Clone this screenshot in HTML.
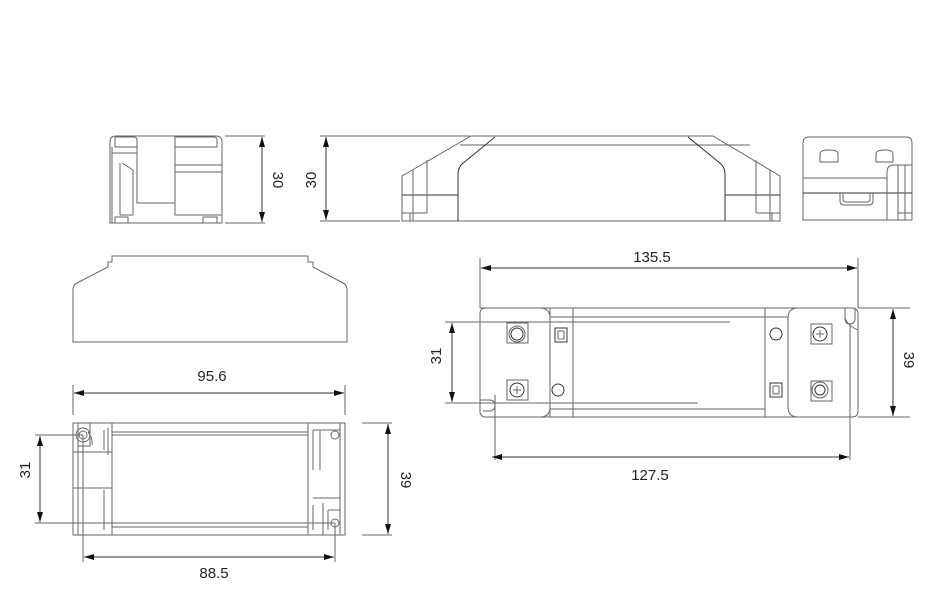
<!DOCTYPE html>
<html><head><meta charset="utf-8"><style>
html,body{margin:0;padding:0;background:#fff;}
svg{display:block;}
text{font-family:"Liberation Sans",Arial,sans-serif;font-size:15px;fill:#222;}
</style></head><body>
<svg width="926" height="600" viewBox="0 0 926 600" xmlns="http://www.w3.org/2000/svg">
<defs>
<marker id="a" viewBox="0 0 10 6" refX="10" refY="3" markerWidth="10" markerHeight="6" orient="auto-start-reverse" markerUnits="userSpaceOnUse"><path d="M0,0 L10,3 L0,6 z" fill="#111"/></marker>
</defs>
<g fill="none" stroke="#666" stroke-width="1">
<path d="M110,223 V142 Q110,136 116,136 H216 Q222,136 222,142 V223 Z"/>
<path d="M115,137 V147 H137 V140 Q137,137 134,137 Z M175,137 V147 H217 V140 Q217,137 214,137 Z"/>
<path d="M112,147 V223 M112,153 H137 M137,147 V203 H175 V215 H222 M175,147 V203 M175,165 H222 M175,172 H222"/>
<path d="M120,163 V215 M133,170 V215 M122,163 L133,170 M120,215 H133"/>
<path d="M115,223 V217 H128 V223 M203,223 V217 H217 V223"/>
<path d="M225,136 H265 M225,223 H265"/>
<line x1="262" y1="137" x2="262" y2="222" stroke="#333" marker-start="url(#a)" marker-end="url(#a)"/>
<path d="M320,136 H470 M320,221 H400"/>
<line x1="326" y1="137" x2="326" y2="220" stroke="#333" marker-start="url(#a)" marker-end="url(#a)"/>
<path d="M471,136 H713 L780,176 V221 H402 V176 Z"/>
<path d="M460,145 H750"/>
<path d="M495,137 L462,164 Q458,168 458,174 V221 M688,137 L721,164 Q725,168 725,174 V221" stroke="#333"/>
<path d="M402,195 H458 M725,195 H780" stroke="#333"/>
<path d="M413,170 V221 M427,160 V213 M402,213 H427 M410,213 V221 M770,170 V221 M756,160 V213 M756,213 H780 M772,213 V221"/>
<path d="M803,220 V143 Q803,137 809,137 H906 Q912,137 912,143 V220 Z"/>
<path d="M820,162 V154 Q820,150 829,150 Q838,150 838,154 V162 Z M876,162 V154 Q876,150 885,150 Q893,150 893,154 V162 Z"/>
<path d="M803,178 H887"/>
<path d="M803,193 H912" stroke="#333"/>
<path d="M887,220 V172 Q887,165 894,165 H912 M898,165 V220 M905,165 V220 M898,213 H912"/>
<path d="M840,193 V201 Q840,205 844,205 H869 Q873,205 873,201 V193 M843,193 V199 Q843,202 846,202 H867 Q870,202 870,199 V193"/>
<path d="M73,342 V290 Q73,285 77,283 L108,267 V262 H112 V256 H308 V262 H313 V267 L343,283 Q347,285 347,290 V342 Z"/>
<path d="M73,423 H345 V535 H73 Z"/>
<path d="M112,432 H308 M112,435 H308 M112,523 H308 M112,527 H308 M112,423 V535 M308,423 V535"/>
<path d="M78,423 V535 M73,452 H112 M73,488 H112 M78,446 H90 V423 M88,432 Q93,438 92,445 M104,430 V450 M104,490 V530 M108,428 V455"/>
<circle cx="83" cy="435" r="4"/><circle cx="83" cy="435" r="7"/>
<path d="M340,423 V535 M313,430 H340 M313,430 V470 M320,430 V470 M313,498 H340 M323,503 V535 M313,505 V530"/>
<circle cx="335" cy="435" r="4"/><circle cx="335" cy="523" r="4"/>
<path d="M328,510 H340 V535 M328,510 V530"/>
<path d="M73,385 V415 M345,385 V415"/>
<line x1="74" y1="393" x2="344" y2="393" stroke="#333" marker-start="url(#a)" marker-end="url(#a)"/>
<path d="M35,435 H83 M35,523 H335"/>
<line x1="40" y1="436" x2="40" y2="522" stroke="#333" marker-start="url(#a)" marker-end="url(#a)"/>
<path d="M362,423 H392 M362,535 H392"/>
<line x1="388" y1="424" x2="388" y2="534" stroke="#333" marker-start="url(#a)" marker-end="url(#a)"/>
<path d="M83,435 V562 M335,523 V562"/>
<line x1="84" y1="557" x2="334" y2="557" stroke="#333" marker-start="url(#a)" marker-end="url(#a)"/>
<path d="M486,308 H852 Q858,308 858,314 V411 Q858,417 852,417 H486 Q480,417 480,411 V314 Q480,308 486,308 Z"/>
<path d="M480,308 H540 Q550,308 550,318 V407 Q550,417 540,417 M550,308 V417 M573,308 V417 M765,308 V417 M798,308 Q788,308 788,318 V407 Q788,417 798,417"/>
<path d="M550,317 H788 M550,409 H765"/>
<path d="M445,322 H730 M445,403 H698"/>
<rect x="507" y="323" width="21" height="20"/><circle cx="517" cy="334" r="6" stroke="#333"/><circle cx="517" cy="334" r="8"/>
<rect x="507" y="380" width="21" height="20"/><circle cx="517" cy="390" r="7" stroke="#333"/><path d="M513,390 H521 M517,386 V394"/>
<rect x="555" y="328" width="12" height="14" stroke="#333"/><rect x="558" y="331" width="6" height="8"/>
<circle cx="558" cy="390" r="6" stroke="#333"/>
<circle cx="776" cy="334" r="6" stroke="#333"/>
<rect x="811" y="324" width="21" height="20"/><circle cx="820" cy="334" r="7" stroke="#333"/><path d="M816,334 H824 M820,330 V338"/>
<rect x="770" y="383" width="12" height="14" stroke="#333"/><rect x="773" y="386" width="6" height="8"/>
<rect x="811" y="381" width="21" height="20"/><circle cx="820" cy="390" r="8"/><circle cx="820" cy="390" r="5" stroke="#333"/>
<path d="M480,400 H489 Q495,400 495,405 Q495,411 489,411 H483 M495,395 V460"/>
<path d="M845,308 V318 Q845,324 850,324 Q855,324 855,318 V308 M845,318 Q848,326 858,330 M850,324 V460"/>
<path d="M480,258 V308 M858,258 V308"/>
<line x1="481" y1="268" x2="857" y2="268" stroke="#333" marker-start="url(#a)" marker-end="url(#a)"/>
<line x1="452" y1="323" x2="452" y2="402" stroke="#333" marker-start="url(#a)" marker-end="url(#a)"/>
<path d="M858,308 H910 M858,417 H910"/>
<line x1="893" y1="309" x2="893" y2="416" stroke="#333" marker-start="url(#a)" marker-end="url(#a)"/>
<line x1="492" y1="457" x2="849" y2="457" stroke="#333" marker-start="url(#a)" marker-end="url(#a)"/>
</g>
<text x="277" y="180" text-anchor="middle" transform="rotate(90 277 180)" dominant-baseline="middle">30</text>
<text x="312" y="180" text-anchor="middle" transform="rotate(-90 312 180)" dominant-baseline="middle">30</text>
<text x="212" y="381" text-anchor="middle">95.6</text>
<text x="26" y="470" text-anchor="middle" transform="rotate(-90 26 470)" dominant-baseline="middle">31</text>
<text x="405" y="480" text-anchor="middle" transform="rotate(90 405 480)" dominant-baseline="middle">39</text>
<text x="214" y="578" text-anchor="middle">88.5</text>
<text x="652" y="262" text-anchor="middle">135.5</text>
<text x="437" y="356" text-anchor="middle" transform="rotate(-90 437 356)" dominant-baseline="middle">31</text>
<text x="908" y="360" text-anchor="middle" transform="rotate(90 908 360)" dominant-baseline="middle">39</text>
<text x="650" y="480" text-anchor="middle">127.5</text>
</svg>
</body></html>
